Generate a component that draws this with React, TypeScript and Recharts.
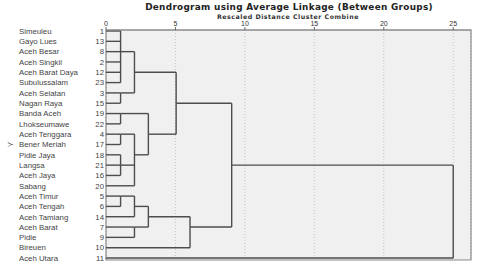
import React from 'react';
import { LineChart, Line, XAxis, YAxis, CartesianGrid, ReferenceArea } from 'recharts';

const names = [
  'Simeuleu', 'Gayo Lues', 'Aceh Besar', 'Aceh Singkil', 'Aceh Barat Daya', 'Subulussalam',
  'Aceh Selatan', 'Nagan Raya', 'Banda Aceh', 'Lhokseumawe', 'Aceh Tenggara', 'Bener Meriah',
  'Pidie Jaya', 'Langsa', 'Aceh Jaya', 'Sabang', 'Aceh Timur', 'Aceh Tengah', 'Aceh Tamiang',
  'Aceh Barat', 'Pidie', 'Bireuen', 'Aceh Utara',
];
const caseIds = [1, 13, 8, 2, 12, 23, 3, 15, 19, 22, 4, 17, 18, 21, 16, 20, 5, 6, 14, 7, 9, 10, 11];

// children of each merge: numbers are rows (leaves), 'cN' is an earlier merge
const clusterKids: (number | string)[][] = [
  [0, 1, 2, 3, 4, 5],
  [6, 7],
  ['c0', 'c1'],
  [8, 9],
  [10, 11],
  [12, 13, 14],
  ['c4', 'c5', 15],
  ['c3', 'c6'],
  ['c2', 'c7'],
  [16, 17],
  ['c9', 18],
  [19, 20],
  ['c10', 'c11'],
  ['c12', 21],
  ['c8', 'c13'],
  ['c14', 22],
];
const clusterDist = [1.05, 1.05, 2.05, 1.05, 1.05, 1.05, 2.05, 3.05, 5.05, 1.05, 2.05, 2.05, 3.05, 6.05, 9.05, 25];

const distTicks = [0, 5, 10, 15, 20, 25];
const rowTicks = names.map((_, i) => i);

type Seg = { x1: number; y1: number; x2: number; y2: number };

const buildSegments = (): Seg[] => {
  const linkRow: number[] = [];
  const rowOf = (k: number | string) => (typeof k === 'number' ? k : linkRow[Number(k.slice(1))]);
  const xOf = (k: number | string) => (typeof k === 'number' ? 0 : clusterDist[Number(k.slice(1))]);
  const segs: Seg[] = [];
  clusterKids.forEach((kids, c) => {
    const d = clusterDist[c];
    const rows = kids.map(rowOf);
    const lo = Math.min(...rows);
    const hi = Math.max(...rows);
    linkRow[c] = Math.floor((rows[0] + rows[rows.length - 1]) / 2);
    segs.push({ x1: d, y1: lo, x2: d, y2: hi });
    kids.forEach(k => segs.push({ x1: xOf(k), y1: rowOf(k), x2: d, y2: rowOf(k) }));
  });
  return segs;
};

const FONT = '"Liberation Sans", Arial, sans-serif';
const HEAD_FONT = '"DejaVu Sans", Verdana, sans-serif';

const RowTick = ({ y, payload }: any) => {
  const i = payload.value;
  return (
    <g fontFamily={FONT} fontSize={7.8} fill="#444">
      {i === 11 && <text x={7} y={y} dy={3}>≻</text>}
      <text x={19} y={y} dy={2.8}>{names[i]}</text>
      <text x={104} y={y} dy={2.8} textAnchor="end">{caseIds[i]}</text>
    </g>
  );
};

const App: React.FC = () => {
  const segments = buildSegments();
  return (
    <div style={{ position: 'absolute', left: 0, top: 0, width: 480, height: 266, background: '#fff', fontFamily: FONT }}>
      <div style={{ position: 'absolute', left: 0, top: 1.8, width: 578, textAlign: 'center', fontFamily: HEAD_FONT, fontSize: 8.9, fontWeight: 'bold', letterSpacing: 0.3, color: '#222', lineHeight: 'normal', whiteSpace: 'nowrap' }}>
        Dendrogram using Average Linkage (Between Groups)
      </div>
      <div style={{ position: 'absolute', left: 0, top: 12.5, width: 576, textAlign: 'center', fontFamily: HEAD_FONT, fontSize: 6.3, fontWeight: 'bold', letterSpacing: 0.5, color: '#333', lineHeight: 'normal', whiteSpace: 'nowrap' }}>
        Rescaled Distance Cluster Combine
      </div>
      <LineChart width={480} height={266} margin={{ top: 20, right: 9, bottom: 6, left: 0 }}>
        <CartesianGrid fill="#f0f0f0" horizontal={false} stroke="#c4c4c4" strokeDasharray="1 2" />
        <ReferenceArea x1={0} x2={26.28} y1={-0.097} y2={22.194} fill="none" stroke="#8a8a8a" strokeWidth={1.2} ifOverflow="visible" />
        <XAxis
          type="number"
          dataKey="x"
          orientation="top"
          domain={[0, 26.28]}
          ticks={distTicks}
          height={10}
          tickSize={3}
          tickMargin={1}
          allowDataOverflow
          axisLine={{ stroke: '#8a8a8a' }}
          tickLine={{ stroke: '#666' }}
          tick={{ fontSize: 7, fill: '#333', fontFamily: FONT }}
        />
        <YAxis
          type="number"
          dataKey="y"
          reversed
          domain={[-0.097, 22.194]}
          ticks={rowTicks}
          interval={0}
          width={106}
          allowDataOverflow
          axisLine={false}
          tickLine={false}
          tick={<RowTick />}
        />
        {segments.map((s, i) => (
          <Line
            key={`seg-${i}`}
            data={[{ x: s.x1, y: s.y1 }, { x: s.x2, y: s.y2 }]}
            dataKey="y"
            type="linear"
            stroke="#4d4d4d"
            strokeWidth={1.4}
            dot={false}
            activeDot={false}
            isAnimationActive={false}
          />
        ))}
      </LineChart>
    </div>
  );
};

export default App;
